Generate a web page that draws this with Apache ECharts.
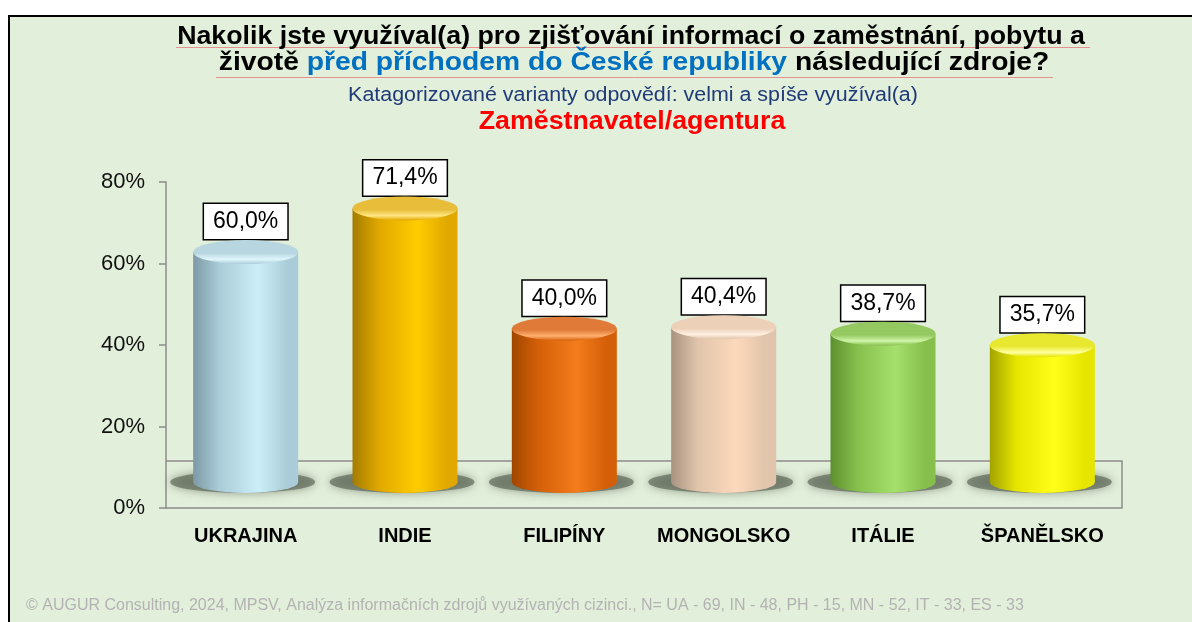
<!DOCTYPE html>
<html>
<head>
<meta charset="utf-8">
<script src="https://cdn.jsdelivr.net/npm/echarts@6/dist/echarts.min.js"></script>
<style>
  html, body { margin: 0; padding: 0; background: #fff; }
  #frame {
    position: absolute; left: 8px; top: 15px; width: 1184px; height: 607px;
    border-top: 2px solid #000; border-left: 2px solid #000;
    background: #e2efda; box-sizing: border-box;
  }
  #chart { position: absolute; left: 0; top: 0; width: 1192px; height: 622px; }
</style>
</head>
<body>
<div id="frame"></div>
<div id="chart"></div>
<script>
// data
var categories = ['UKRAJINA', 'INDIE', 'FILIPÍNY', 'MONGOLSKO', 'ITÁLIE', 'ŠPANĚLSKO'];
var values = [60.0, 71.4, 40.0, 40.4, 38.7, 35.7];
var axisMin = 0, axisMax = 80, axisStep = 20;

// barvy válců: tmavá, střední, světlá, víko, odlesk
var palette = [
    ['#7d9aa5', '#a9ccd8', '#cbeef8', '#b8d6e0', '#e0f6fc'],
    ['#a37c00', '#e0a800', '#ffcc00', '#e8bd3a', '#ffe680'],
    ['#a04600', '#d45f08', '#f47c1c', '#e07a38', '#ffb070'],
    ['#a89280', '#e0c4ab', '#fdd9bc', '#ecd0b8', '#fff0e0'],
    ['#5e8f2f', '#86bf4c', '#a6e06c', '#94c860', '#d0f5a8'],
    ['#a3a300', '#e5e500', '#ffff1a', '#e8e830', '#ffffa0']
];

var GRID = {left: 166, right: 70, top: 182, bottom: 114};
var W = 1192, H = 622;
var FLOOR_DEPTH = 47;
// skrytá osa pro válce (3D podlaha posouvá nulu nahoru)
var BAR_MIN = -6.8, BAR_MAX = 78.3;
var FONT = "'Liberation Sans', Arial, sans-serif";

function sideGrad(p) {
    return new echarts.graphic.LinearGradient(0, 0, 1, 0, [
        {offset: 0, color: p[0]},
        {offset: 0.25, color: p[1]},
        {offset: 0.62, color: p[2]},
        {offset: 0.9, color: p[1]},
        {offset: 1, color: p[1]}
    ]);
}
function capGrad(p) {
    return new echarts.graphic.LinearGradient(0, 0, 0, 1, [
        {offset: 0, color: p[3]},
        {offset: 0.55, color: p[3]},
        {offset: 0.8, color: p[4]},
        {offset: 1, color: p[1]}
    ]);
}

var bodyData = values.map(function (v, i) {
    return {value: v, itemStyle: {color: sideGrad(palette[i])}};
});
var capData = values.map(function (v, i) {
    return {value: v, itemStyle: {color: capGrad(palette[i])}};
});

var x0 = GRID.left, x1 = W - GRID.right, yb = H - GRID.bottom, yt = yb - FLOOR_DEPTH;

var chart = echarts.init(document.getElementById('chart'));

var option = {
    backgroundColor: 'transparent',
    animation: false,
    grid: GRID,
    graphic: [
        {type: 'polyline', z: 0, shape: {points: [[x0, yt], [x1, yt], [x1, yb]]},
            style: {stroke: '#8c8c8c', lineWidth: 1.5, fill: null}},
        // podtržení z kontroly pravopisu
        {type: 'line', z: 0, shape: {x1: 176, y1: 47.5, x2: 1090, y2: 47.5}, style: {stroke: '#e89090', lineWidth: 1}},
        {type: 'line', z: 0, shape: {x1: 216, y1: 77.5, x2: 1053, y2: 77.5}, style: {stroke: '#e89090', lineWidth: 1}},
        {type: 'text', x: 631, y: 37, scaleX: 1.07, style: {
            text: 'Nakolik jste využíval(a) pro zjišťování informací o zaměstnání, pobytu a',
            font: 'bold 25px ' + FONT, fill: '#000', align: 'center', verticalAlign: 'middle'}},
        {type: 'text', x: 634, y: 63, scaleX: 1.13, style: {
            text: '{b|životě }{u|před příchodem do České republiky}{b| následující zdroje?}',
            align: 'center', verticalAlign: 'middle',
            rich: {
                b: {font: 'bold 25px ' + FONT, fill: '#000'},
                u: {font: 'bold 25px ' + FONT, fill: '#0070c0'}
            }}},
        {type: 'text', x: 633, y: 95, scaleX: 1.07, style: {
            text: 'Katagorizované varianty odpovědí: velmi a spíše využíval(a)',
            font: '20px ' + FONT, fill: '#1f3a78', align: 'center', verticalAlign: 'middle'}},
        {type: 'text', x: 632, y: 122, scaleX: 1.03, style: {
            text: 'Zaměstnavatel/agentura',
            font: 'bold 26px ' + FONT, fill: '#ff0000', align: 'center', verticalAlign: 'middle'}},
        {type: 'text', x: 26, y: 606, style: {
            text: '© AUGUR Consulting, 2024, MPSV, Analýza informačních zdrojů využívaných cizinci., N= UA - 69, IN - 48, PH - 15, MN - 52, IT - 33, ES - 33',
            font: '16px ' + FONT, fill: '#b3b3b3', align: 'left', verticalAlign: 'middle'}}
    ],
    xAxis: {
        type: 'category',
        data: categories,
        axisLine: {lineStyle: {color: '#8c8c8c', width: 1.5}},
        axisTick: {length: 7, lineStyle: {color: '#8c8c8c', width: 1.5}},
        axisLabel: {
            interval: 0,
            margin: 18,
            color: '#000',
            fontWeight: 'bold',
            fontSize: 20,
            fontFamily: "'Liberation Sans Narrow', 'Liberation Sans', Arial, sans-serif"
        }
    },
    yAxis: [
        {
            type: 'value',
            min: axisMin,
            max: axisMax,
            interval: axisStep,
            axisLine: {show: true, lineStyle: {color: '#8c8c8c', width: 1.5}},
            axisTick: {show: true, length: 7, lineStyle: {color: '#8c8c8c', width: 1.5}},
            splitLine: {show: false},
            axisLabel: {
                margin: 21,
                formatter: '{value}%',
                color: '#111',
                fontSize: 22,
                fontFamily: FONT
            }
        },
        {
            type: 'value',
            min: BAR_MIN,
            max: BAR_MAX,
            show: false,
            splitLine: {show: false}
        }
    ],
    series: [
        {   // stín pod válcem
            type: 'pictorialBar',
            yAxisIndex: 1,
            data: values,
            symbol: 'circle',
            symbolSize: [145, 22],
            symbolOffset: [-3, '50%'],
            z: 1,
            itemStyle: {
                color: 'rgba(96,106,90,0.7)',
                shadowBlur: 10,
                shadowColor: 'rgba(96,106,90,0.9)'
            },
            silent: true
        },
        {
            type: 'bar',
            yAxisIndex: 1,
            data: bodyData,
            barWidth: 105,
            z: 2,
            label: {
                show: true,
                position: 'top',
                distance: 13,
                formatter: function (p) {
                    return p.value.toFixed(1).replace('.', ',') + '%';
                },
                color: '#000',
                fontSize: 23,
                fontFamily: FONT,
                backgroundColor: '#fff',
                borderColor: '#000',
                borderWidth: 1.5,
                padding: [5, 9, 5, 9],
                lineHeight: 25
            }
        },
        {   // spodní podstava
            type: 'pictorialBar',
            yAxisIndex: 1,
            data: bodyData,
            symbol: 'circle',
            symbolSize: [105, 22],
            symbolOffset: [0, '50%'],
            z: 3
        },
        {   // horní víko
            type: 'pictorialBar',
            yAxisIndex: 1,
            data: capData,
            symbol: 'circle',
            symbolPosition: 'end',
            symbolSize: [105, 24],
            symbolOffset: [0, '-50%'],
            z: 4
        }
    ]
};

chart.setOption(option);
</script>
</body>
</html>
